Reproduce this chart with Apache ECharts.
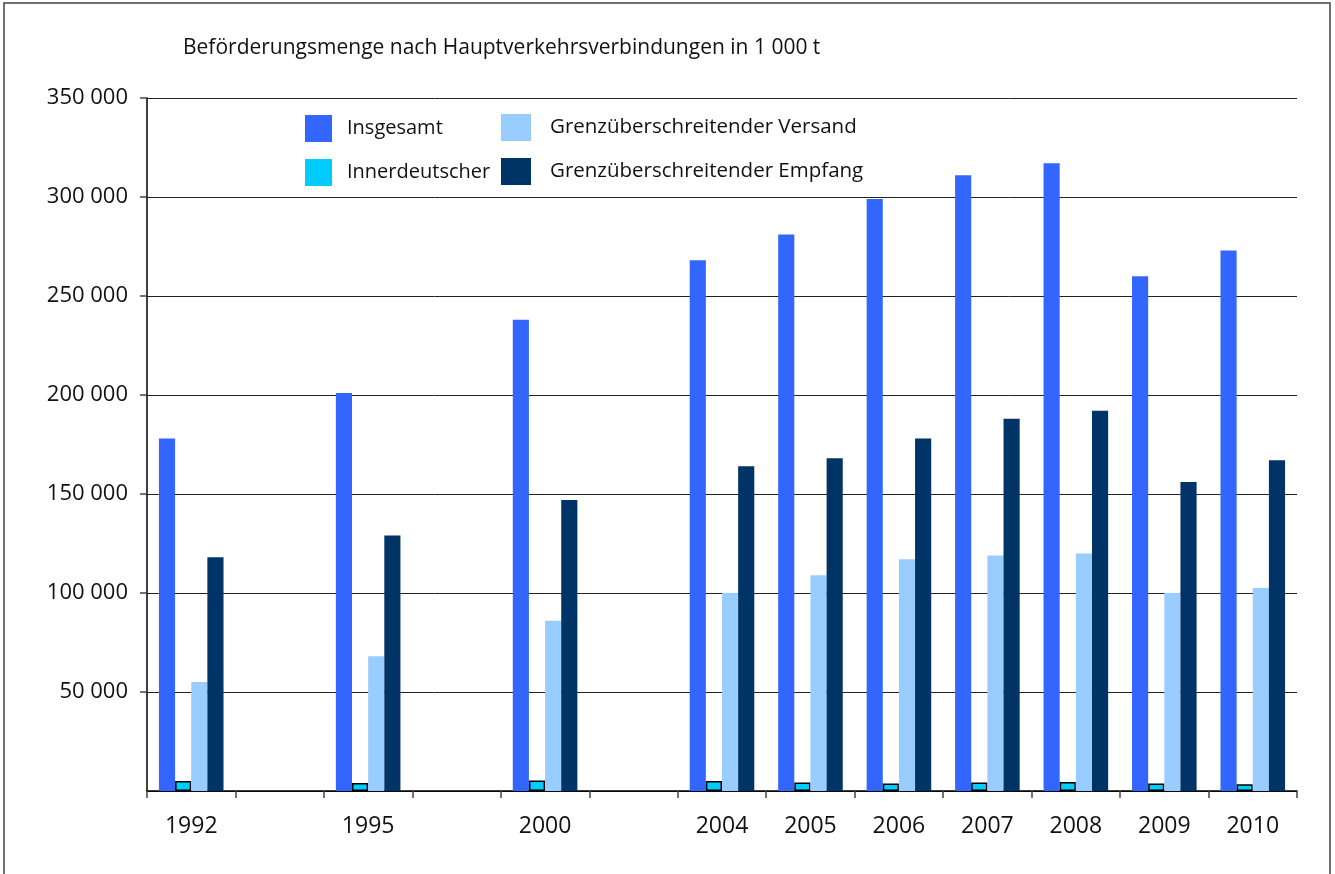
<!DOCTYPE html>
<html><head><meta charset="utf-8">
<script src="https://cdn.jsdelivr.net/npm/echarts@6/dist/echarts.min.js"></script>
<style>html,body{margin:0;padding:0;background:#fff}#c{width:1335px;height:874px}</style>
</head><body><div id="c"></div>
<script>
const categories = ['1992','','1995','','2000','','2004','2005','2006','2007','2008','2009','2010'];
const insgesamt = [178000,null,201000,null,238000,null,268000,281000,299000,311000,317000,260000,273000];
const innerdeutscher = [5000,null,4000,null,5300,null,5000,4300,3800,4300,4500,3800,3400];
const versand = [55000,null,68000,null,86000,null,100000,109000,117000,119000,120000,100000,102500];
const empfang = [118000,null,129000,null,147000,null,164000,168000,178000,188000,192000,156000,167000];
const yTicks = {min:0, max:350000, interval:50000};
const FONT = 'Open Sans';
const chart = echarts.init(document.getElementById('c'));
const fmt = v => String(v).replace(/\B(?=(\d{3})+(?!\d))/g,' ');
chart.setOption({
  animation:false,
  textStyle:{fontFamily:FONT},
  title:{text:'Beförderungsmenge nach Hauptverkehrsverbindungen in 1 000 t', left:183, top:38, padding:0,
    textStyle:{fontFamily:FONT,fontSize:21,fontWeight:'normal',color:'#111'}},
  graphic:[{type:'rect',shape:{x:4,y:3,width:1326,height:900},style:{fill:'none',stroke:'#444',lineWidth:1.5},silent:true}],
  legend:[
    {orient:'vertical',left:305,top:115,padding:0,itemWidth:27,itemHeight:27,itemGap:17,icon:'rect',
     data:[{name:'Insgesamt'},{name:'Innerdeutscher',itemStyle:{borderWidth:0}}],
     textStyle:{fontFamily:FONT,fontSize:20,color:'#111',padding:[3,0,0,10]}},
    {orient:'vertical',left:501,top:114,padding:0,itemWidth:30,itemHeight:27,itemGap:17,icon:'rect',
     data:['Grenzüberschreitender Versand','Grenzüberschreitender Empfang'],
     textStyle:{fontFamily:FONT,fontSize:20.5,color:'#111',padding:[3,0,0,14]}}
  ],
  grid:{left:147,right:38,top:98,bottom:83},
  xAxis:{type:'category',data:categories,
    axisLine:{lineStyle:{color:'#000',width:1.5}},
    axisTick:{show:true,alignWithLabel:false,interval:0,length:7,lineStyle:{color:'#444',width:1.5}},
    axisLabel:{interval:0,margin:24,fontSize:23,color:'#111',fontFamily:FONT}},
  yAxis:{type:'value',min:yTicks.min,max:yTicks.max,interval:yTicks.interval,
    axisLine:{show:true,lineStyle:{color:'#000',width:1.5}},
    axisTick:{show:true,length:7,lineStyle:{color:'#444',width:1.5}},
    splitLine:{lineStyle:{color:'#222',width:1}},
    axisLabel:{formatter:fmt,showMinLabel:false,margin:19,fontSize:22,color:'#111',fontFamily:FONT}},
  series:[
    {name:'Insgesamt',type:'bar',data:insgesamt,barGap:'0%',barCategoryGap:'27%',itemStyle:{color:'#3366FF'}},
    {name:'Innerdeutscher',type:'bar',data:innerdeutscher,itemStyle:{color:'#00CCFF',borderColor:'#000',borderWidth:1.5}},
    {name:'Grenzüberschreitender Versand',type:'bar',data:versand,itemStyle:{color:'#99CCFF'}},
    {name:'Grenzüberschreitender Empfang',type:'bar',data:empfang,itemStyle:{color:'#003366'}}
  ]
});
</script></body></html>
